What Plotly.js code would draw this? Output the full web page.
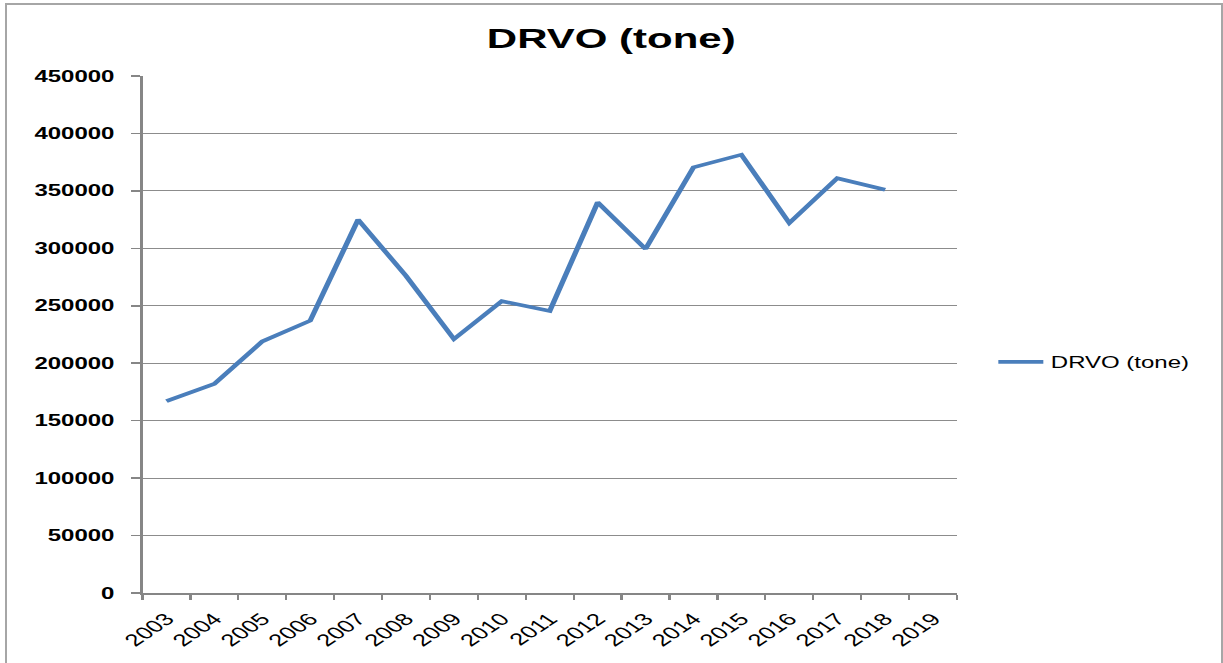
<!DOCTYPE html>
<html>
<head>
<meta charset="utf-8">
<script src="https://cdn.plot.ly/plotly-3.0.1.min.js"></script>
<style>
  html, body { margin: 0; padding: 0; background: #ffffff; overflow: hidden; width: 1223px; height: 663px; }
  #chart { position: absolute; left: 0; top: 0; height: 663px; transform-origin: 0 0; }
  #frame { position: absolute; left: 5px; top: 3px; width: 1214px; height: 720px; border: 2px solid #a6a6a6; pointer-events: none; }
</style>
</head>
<body>
<div id="chart"></div>
<div id="frame"></div>
<script>
// Data
const years = ['2003','2004','2005','2006','2007','2008','2009','2010','2011','2012','2013','2014','2015','2016','2017','2018','2019'];
const drvo = [167000, 182000, 219000, 237000, 325000, 276000, 221000, 254000, 245500, 340000, 299500, 370500, 381500, 322000, 361000, 351000];
const yTicks = [0, 50000, 100000, 150000, 200000, 250000, 300000, 350000, 400000, 450000];
const seriesName = 'DRVO (tone)';
const chartTitle = 'DRVO (tone)';

// the reference is horizontally stretched; draw narrower and stretch with CSS
const S = 1.5;
const W = Math.round(1223 / S);
const el = document.getElementById('chart');
el.style.width = W + 'px';
el.style.transform = 'scaleX(' + S + ')';

const trace = {
  type: 'scatter',
  mode: 'lines',
  name: seriesName,
  x: years.slice(0, drvo.length),
  y: drvo,
  line: { color: '#4a7ebb', width: 3.6 },
  showlegend: true
};

const layout = {
  width: W,
  height: 663,
  margin: { l: 143 / S, r: 265 / S, t: 76, b: 70 },
  paper_bgcolor: 'rgba(0,0,0,0)',
  plot_bgcolor: 'rgba(0,0,0,0)',
  font: { family: 'Liberation Sans, Arial, sans-serif', color: '#000000' },
  title: {
    text: chartTitle,
    font: { family: 'Liberation Sans, Arial, sans-serif', size: 28, color: '#000000', weight: 'bold' },
    x: 0.5, xref: 'container', xanchor: 'center',
    y: 1 - 38 / 663, yref: 'container', yanchor: 'middle'
  },
  xaxis: {
    type: 'category',
    categoryorder: 'array',
    categoryarray: years,
    range: [-0.5, years.length - 0.5],
    tickson: 'boundaries',
    ticks: 'outside',
    ticklen: 5,
    tickwidth: 1.5,
    tickcolor: '#868686',
    ticklabelstandoff: 8,
    showline: true,
    linecolor: '#868686',
    linewidth: 1.5,
    showgrid: false,
    zeroline: false,
    tickangle: -45,
    tickfont: { family: 'Liberation Sans, Arial, sans-serif', size: 17, color: '#000000' },
    fixedrange: true
  },
  yaxis: {
    range: [0, 450000],
    tickmode: 'array',
    tickvals: yTicks,
    ticktext: yTicks.map(String),
    ticks: 'outside',
    ticklen: 6,
    tickwidth: 1.5,
    tickcolor: '#868686',
    ticklabelstandoff: 8,
    showline: true,
    linecolor: '#868686',
    linewidth: 1.5,
    showgrid: true,
    gridcolor: '#8c8c8c',
    gridwidth: 1.2,
    zeroline: false,
    tickfont: { family: 'Liberation Sans, Arial, sans-serif', size: 16, color: '#000000', weight: 'bold' },
    fixedrange: true
  },
  legend: {
    x: (1000 / S - 143 / S) / ((1223 - 143 - 265) / S) - 0.01,
    xanchor: 'left',
    y: (593 - 362) / 517,
    yanchor: 'middle',
    bgcolor: 'rgba(0,0,0,0)',
    font: { family: 'Liberation Sans, Arial, sans-serif', size: 16, color: '#000000' },
    itemwidth: 30
  },
  showlegend: true
};

Plotly.newPlot(el, [trace], layout, { displayModeBar: false, staticPlot: true });
</script>
</body>
</html>
